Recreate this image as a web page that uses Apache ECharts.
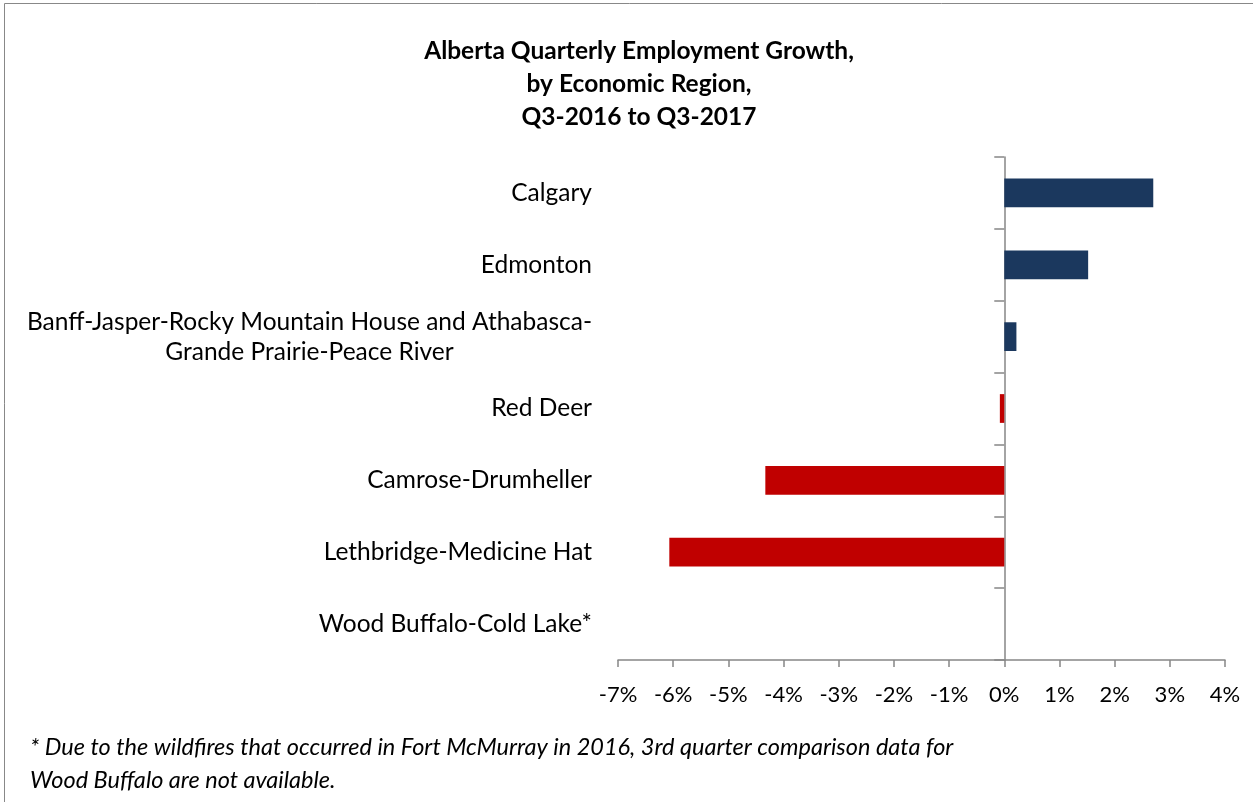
<!DOCTYPE html>
<html><head><meta charset="utf-8">
<script src="https://cdn.jsdelivr.net/npm/echarts@6/dist/echarts.min.js"></script>
<style>html,body{margin:0;padding:0;background:#fff}#c{width:1253px;height:802px}</style>
</head><body><div id="c"></div>
<script>
const categories = ["Calgary","Edmonton","Banff-Jasper-Rocky Mountain House and Athabasca-\nGrande Prairie-Peace River","Red Deer","Camrose-Drumheller","Lethbridge-Medicine Hat","Wood Buffalo-Cold Lake*"];
const growth = [2.70, 1.52, 0.22, -0.08, -4.33, -6.07, null];
const xTicks = [-7,-6,-5,-4,-3,-2,-1,0,1,2,3,4];
const titleText = "Alberta Quarterly Employment Growth,\nby Economic Region,\nQ3-2016 to Q3-2017";
const footnote = "* Due to the wildfires that occurred in Fort McMurray in 2016, 3rd quarter comparison data for\nWood Buffalo are not available.";

const FONT = "Lato";
const chart = echarts.init(document.getElementById('c'), null, {renderer:'canvas'});
const cats = categories.slice().reverse();
const vals = growth.slice().reverse();
chart.setOption({
  animation:false,
  backgroundColor:'#fff',
  title:{text:titleText,left:634,top:30,textAlign:'center',
    textStyle:{fontFamily:FONT,fontWeight:'bold',fontSize:24.5,lineHeight:33,color:'#000'}},
  graphic:[
    {type:'rect',shape:{x:4.5,y:3.5,width:1300,height:900},style:{fill:'none',stroke:'#888',lineWidth:1},silent:true},
    {type:'text',left:30,top:731,style:{text:footnote,fontFamily:FONT,fontStyle:'italic',fontSize:23.5,lineHeight:33,fill:'#000'}}
  ],
  grid:{left:618,right:28,top:157,bottom:142,containLabel:false},
  xAxis:{type:'value',min:-7,max:4,interval:1,
    axisLine:{show:true,onZero:false,lineStyle:{color:'#868686',width:1.5}},
    axisTick:{show:true,length:7,lineStyle:{color:'#868686',width:1.5}},
    splitLine:{show:false},
    axisLabel:{margin:24,fontFamily:FONT,fontSize:22,color:'#000',
      formatter:v=>xTicks.includes(v)?v+'%':''}},
  yAxis:[
    {type:'category',data:cats,position:'left',
      axisLine:{show:false,onZero:false},axisTick:{show:false},
      axisLabel:{margin:26,fontFamily:FONT,fontSize:24.5,color:'#000',lineHeight:30,
        formatter:function(v){
          if(v.indexOf('\n')>=0){return v.split('\n').map(s=>'{c|'+s+'}').join('\n');}
          return v;},
        rich:{c:{align:'center',fontFamily:FONT,fontSize:24.5,lineHeight:30,color:'#000'}}}},
    {type:'category',data:cats,position:'left',
      axisLine:{show:true,onZero:true,lineStyle:{color:'#868686',width:1.5}},
      axisTick:{show:true,length:10,lineStyle:{color:'#868686',width:1.5}},
      axisLabel:{show:false}}
  ],
  series:[{type:'bar',yAxisIndex:0,data:vals,barCategoryGap:'60%',
    itemStyle:{color:p=>p.value<0?'#C00000':'#1B385E'}}]
});
</script></body></html>
